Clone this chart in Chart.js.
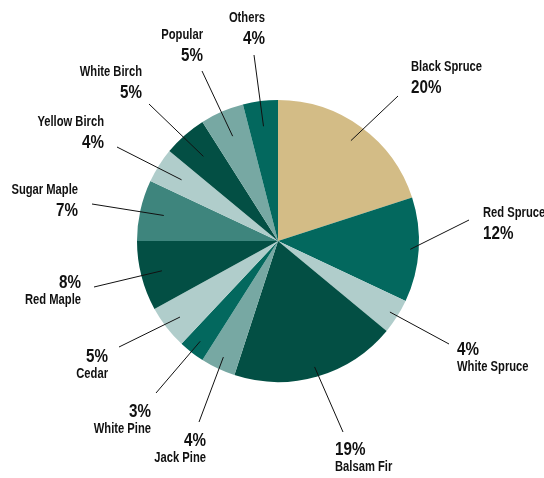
<!DOCTYPE html>
<html>
<head>
<meta charset="utf-8">
<script src="https://cdn.jsdelivr.net/npm/chart.js@4/dist/chart.umd.min.js"></script>
<style>
  html, body { margin: 0; padding: 0; background: #fff; }
  #wrap { width: 544px; height: 478px; }
</style>
</head>
<body>
<div id="wrap"><canvas id="pie" width="544" height="478"></canvas></div>
<script>
// Udział gatunków drzew (%), zgodnie z ruchem wskazówek od góry
const species = [
  "Black Spruce", "Red Spruce", "White Spruce", "Balsam Fir", "Jack Pine",
  "White Pine", "Cedar", "Red Maple", "Sugar Maple", "Yellow Birch",
  "White Birch", "Popular", "Others",
];
const shares = [20, 12, 4, 19, 4, 3, 5, 8, 7, 4, 5, 5, 4];

const TAN = "#d3bc86", TEAL = "#03685e", LIGHT = "#b0cdcb", DARK = "#034f44",
  GREY = "#77a8a3", MID = "#3e857d";
const colors = [TAN, TEAL, LIGHT, DARK, GREY, TEAL, LIGHT, DARK, MID, LIGHT, DARK, GREY, TEAL];

// Etykiety poza kołem: pozycja tekstu (linia bazowa pierwszego wiersza), wyrównanie,
// koniec linii odniesienia i na jakiej części promienia linia wchodzi w wycinek.
const labelPos = [
  { x: 411, y: 71,  align: "left",  pctFirst: false, lx: 398, ly: 96,  r: 0.88 },
  { x: 483, y: 217, align: "left",  pctFirst: false, lx: 469, ly: 220, r: 0.94 },
  { x: 457, y: 355, align: "left",  pctFirst: true,  lx: 449, ly: 344, r: 0.94 },
  { x: 335, y: 455, align: "left",  pctFirst: true,  lx: 343, ly: 432, r: 0.93 },
  { x: 206, y: 446, align: "right", pctFirst: true,  lx: 199, ly: 422, r: 0.91 },
  { x: 151, y: 417, align: "right", pctFirst: true,  lx: 156, ly: 393, r: 0.90 },
  { x: 108, y: 362, align: "right", pctFirst: true,  lx: 119, ly: 347, r: 0.88 },
  { x: 81,  y: 288, align: "right", pctFirst: true,  lx: 94,  ly: 287, r: 0.85 },
  { x: 78,  y: 194, align: "right", pctFirst: false, lx: 92,  ly: 204, r: 0.83 },
  { x: 104, y: 126, align: "right", pctFirst: false, lx: 117, ly: 147, r: 0.81 },
  { x: 142, y: 76,  align: "right", pctFirst: false, lx: 149, ly: 104, r: 0.80 },
  { x: 203, y: 39,  align: "right", pctFirst: false, lx: 202, ly: 71,  r: 0.81 },
  { x: 265, y: 22,  align: "right", pctFirst: false, lx: 254, ly: 55,  r: 0.82 },
];

// Brak kroju "condensed" — ściskamy zwykły Liberation Sans w poziomie.
const FONT = "'Liberation Sans', Arial, sans-serif";
const SQUEEZE = 0.8;

function narrowText(ctx, text, x, y, size) {
  ctx.save();
  ctx.font = `bold ${size}px ${FONT}`;
  ctx.translate(x, y);
  ctx.scale(SQUEEZE, 1);
  ctx.fillText(text, 0, 0);
  ctx.restore();
}

const outsideLabels = {
  id: "outsideLabels",
  afterDatasetsDraw(chart) {
    const ctx = chart.ctx;
    const arcs = chart.getDatasetMeta(0).data;
    ctx.save();
    arcs.forEach((arc, i) => {
      const p = labelPos[i];
      const mid = (arc.startAngle + arc.endAngle) / 2;
      const ix = arc.x + Math.cos(mid) * arc.outerRadius * p.r;
      const iy = arc.y + Math.sin(mid) * arc.outerRadius * p.r;
      ctx.strokeStyle = "#111";
      ctx.lineWidth = 1;
      ctx.beginPath();
      ctx.moveTo(p.lx, p.ly);
      ctx.lineTo(ix, iy);
      ctx.stroke();

      ctx.fillStyle = "#111";
      ctx.textAlign = p.align;
      ctx.textBaseline = "alphabetic";
      const pct = shares[i] + "%";
      if (p.pctFirst) {
        narrowText(ctx, pct, p.x, p.y, 19);
        narrowText(ctx, species[i], p.x, p.y + 16, 14);
      } else {
        narrowText(ctx, species[i], p.x, p.y, 14);
        narrowText(ctx, pct, p.x, p.y + 22, 19);
      }
    });
    ctx.restore();
  },
};

new Chart(document.getElementById("pie"), {
  type: "pie",
  data: {
    labels: species,
    datasets: [{
      data: shares,
      backgroundColor: colors,
      borderWidth: 0,
    }],
  },
  options: {
    responsive: false,
    animation: false,
    layout: { padding: { left: 137, right: 125, top: 100, bottom: 96 } },
    plugins: { legend: { display: false }, tooltip: { enabled: false } },
  },
  plugins: [outsideLabels],
});
</script>
</body>
</html>
